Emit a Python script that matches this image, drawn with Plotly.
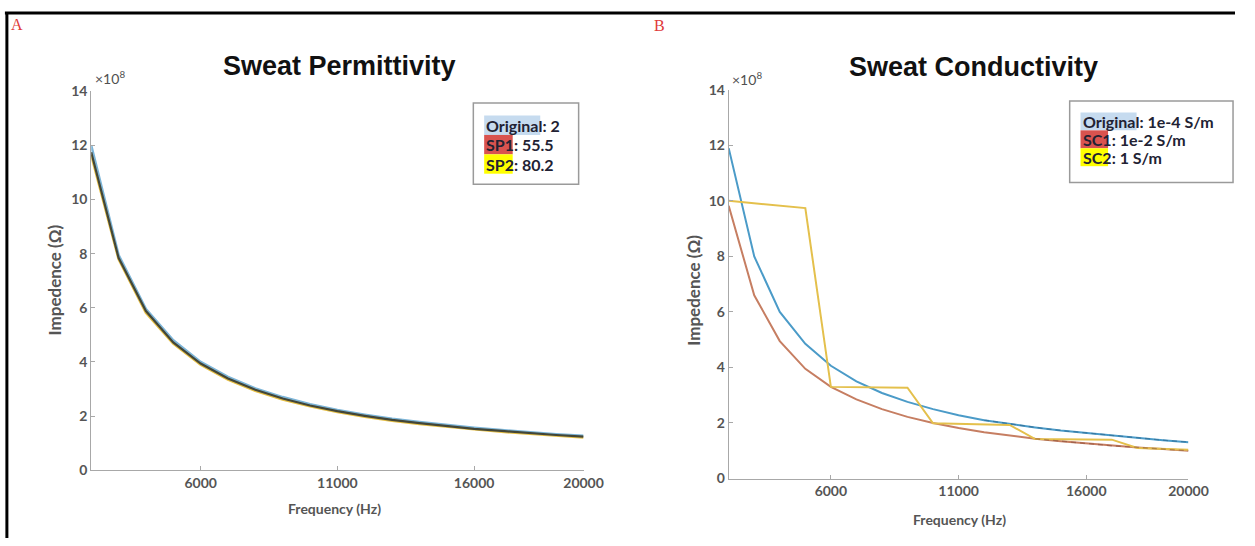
import plotly.graph_objects as go
from plotly.subplots import make_subplots

W, H = 1255, 546

# Frequency samples (Hz)
freq = [2000, 3000, 4000, 5000, 6000, 7000, 8000, 9000, 10000, 11000,
        12000, 13000, 14000, 15000, 16000, 17000, 18000, 19000, 20000]

# Impedance in units of 1e8 Ohm -- sweat permittivity sweep
perm_original = [12.0, 7.95, 5.95, 4.8, 4.0, 3.45, 3.02, 2.7, 2.44, 2.22,
                 2.05, 1.9, 1.78, 1.67, 1.57, 1.48, 1.4, 1.33, 1.27]
perm_sp1 = [11.75, 7.85, 5.88, 4.72, 3.94, 3.39, 2.97, 2.65, 2.39, 2.18,
            2.01, 1.86, 1.74, 1.63, 1.53, 1.45, 1.37, 1.3, 1.24]
perm_sp2 = [11.65, 7.8, 5.82, 4.68, 3.9, 3.35, 2.93, 2.61, 2.36, 2.15,
            1.98, 1.83, 1.71, 1.6, 1.51, 1.42, 1.35, 1.28, 1.21]

# Impedance in units of 1e8 Ohm -- sweat conductivity sweep
cond_original = [11.9, 8.0, 6.0, 4.85, 4.06, 3.5, 3.08, 2.76, 2.5, 2.28,
                 2.1, 1.96, 1.84, 1.73, 1.64, 1.55, 1.46, 1.38, 1.31]
cond_sc1 = [9.82, 6.6, 4.95, 3.95, 3.3, 2.85, 2.5, 2.22, 2.0, 1.82,
            1.67, 1.54, 1.43, 1.34, 1.26, 1.18, 1.12, 1.06, 1.0]
cond_sc2 = [10.0, 9.92, 9.83, 9.74, 3.30, 3.29, 3.28, 3.27, 1.99, 1.97,
            1.95, 1.93, 1.42, 1.42, 1.41, 1.40, 1.10, 1.07, 1.04]

y_ticks = [0, 2, 4, 6, 8, 10, 12, 14]
x_ticks = [6000, 11000, 16000, 20000]
x_tick_text = ["6000", "11000", "16000", "20000"]

legend_perm = [("Original", ": 2", "#c6dbef"),
               ("SP1", ": 55.5", "#d9534f"),
               ("SP2", ": 80.2", "#ffff00")]
legend_cond = [("Original", ": 1e-4 S/m", "#c6dbef"),
               ("SC1", ": 1e-2 S/m", "#d9534f"),
               ("SC2", ": 1 S/m", "#ffff00")]


def px(x):
    return x / W


def py(y):
    return 1 - y / H


fig = make_subplots(rows=1, cols=2)

# Panel A
fig.add_trace(go.Scatter(x=freq, y=perm_sp2, mode="lines",
                         line=dict(color="#e6bf45", width=2.6)), row=1, col=1)
fig.add_trace(go.Scatter(x=freq, y=perm_original, mode="lines",
                         line=dict(color="#7db5d8", width=2.6)), row=1, col=1)
fig.add_trace(go.Scatter(x=freq, y=perm_sp1, mode="lines",
                         line=dict(color="#434638", width=2.2)), row=1, col=1)

# Panel B
fig.add_trace(go.Scatter(x=freq, y=cond_original, mode="lines",
                         line=dict(color="#4b9bc8", width=2)), row=1, col=2)
fig.add_trace(go.Scatter(x=freq, y=cond_sc1, mode="lines",
                         line=dict(color="#c67e62", width=2)), row=1, col=2)
fig.add_trace(go.Scatter(x=freq, y=cond_sc2, mode="lines",
                         line=dict(color="#e4c04c", width=2)), row=1, col=2)

# Darker dashed sheen along the tails of the two smooth curves
tail = 10
fig.add_trace(go.Scatter(x=freq[tail:], y=cond_original[tail:], mode="lines",
                         opacity=0.55,
                         line=dict(color="#2b5f86", width=1.3, dash="5px,4px")),
              row=1, col=2)
fig.add_trace(go.Scatter(x=freq[tail + 2:], y=cond_sc1[tail + 2:], mode="lines",
                         opacity=0.5,
                         line=dict(color="#7d4636", width=1.3, dash="5px,4px")),
              row=1, col=2)

tick_font = dict(family="Lato", size=14, color="#555555", weight="bold")
axis_common = dict(showline=True, linecolor="#a8a8a8", linewidth=1,
                   ticks="inside", ticklen=4, tickcolor="#a8a8a8",
                   showgrid=False, zeroline=False, mirror=False,
                   tickfont=tick_font)

fig.update_xaxes(range=[2000, 20000], tickvals=x_ticks, ticktext=x_tick_text,
                 **axis_common)
fig.update_yaxes(range=[0, 14], tickvals=y_ticks, **axis_common)

fig.update_layout(
    xaxis=dict(domain=[px(92.7), px(593)]),
    yaxis=dict(domain=[py(476), py(85)]),
    xaxis2=dict(domain=[px(740.5), px(1207.7)]),
    yaxis2=dict(domain=[py(484.6), py(83.4)]),
    width=W, height=H,
    margin=dict(l=0, r=0, t=0, b=0),
    paper_bgcolor="white", plot_bgcolor="white",
    showlegend=False,
)

ann = []
shapes = []


def note(x, y, text, font, xanchor="center", yanchor="middle", **kw):
    ann.append(dict(x=px(x), y=py(y), xref="paper", yref="paper", text=text,
                    showarrow=False, font=font, xanchor=xanchor,
                    yanchor=yanchor, **kw))


# Panel letters
letter_font = dict(family="Liberation Serif", size=16, color="#e03a3a")
note(17, 16, "A", letter_font)
note(670, 17, "B", letter_font)

# Titles
title_font = dict(family="Liberation Sans", size=27, color="#111111", weight="bold")
note(345, 59, "Sweat Permittivity", title_font)
note(989, 60, "Sweat Conductivity", title_font)

# Exponent markers
exp_font = dict(family="Lato", size=14, color="#505050")
note(94, 71, "×10<sup>8</sup>", exp_font, xanchor="left")
note(742, 72, "×10<sup>8</sup>", exp_font, xanchor="left")

# Axis titles
lab_font = dict(family="Lato", size=14, color="#555555", weight="bold")
note(340, 516, "Frequency (Hz)", lab_font)
note(975, 527, "Frequency (Hz)", lab_font)
ylab_font = dict(family="Lato", size=17, color="#555555", weight="bold")
note(55, 280, "Impedence (Ω)", ylab_font, textangle=-90)
note(705, 290, "Impedence (Ω)", ylab_font, textangle=-90)

# Text legends with highlighted names
leg_font = dict(family="Lato", size=16, color="#222233", weight="bold")


def text_legend(box, x0, y0, row_h, entries, name_w):
    bx0, by0, bx1, by1 = box
    shapes.append(dict(type="rect", xref="paper", yref="paper",
                       x0=px(bx0), x1=px(bx1), y0=py(by1), y1=py(by0),
                       line=dict(color="#9a9a9a", width=1.5),
                       fillcolor="white", layer="above"))
    for i, (name, rest, col) in enumerate(entries):
        yc = y0 + i * row_h
        shapes.append(dict(type="rect", xref="paper", yref="paper",
                           x0=px(x0), x1=px(x0 + name_w[i]),
                           y0=py(yc + row_h / 2), y1=py(yc - row_h / 2),
                           line=dict(width=0), fillcolor=col, layer="above"))
        note(x0, yc, name + rest, leg_font, xanchor="left")


text_legend((481, 97, 588, 181), 492, 120, 20, legend_perm, [57, 29, 29])
text_legend((1087, 95, 1253, 179), 1098, 116, 18.5, legend_cond, [57, 28, 28])

# Outer frame (top and left edges)
shapes.append(dict(type="line", xref="paper", yref="paper",
                   x0=px(5), x1=1, y0=py(4), y1=py(4),
                   line=dict(color="black", width=3)))
shapes.append(dict(type="line", xref="paper", yref="paper",
                   x0=px(7), x1=px(7), y0=py(3), y1=0,
                   line=dict(color="black", width=3)))

fig.update_layout(annotations=ann, shapes=shapes)

fig.write_html(
    "out.html",
    post_script="document.body.style.margin='0px';"
                "document.body.style.overflow='hidden';",
)
